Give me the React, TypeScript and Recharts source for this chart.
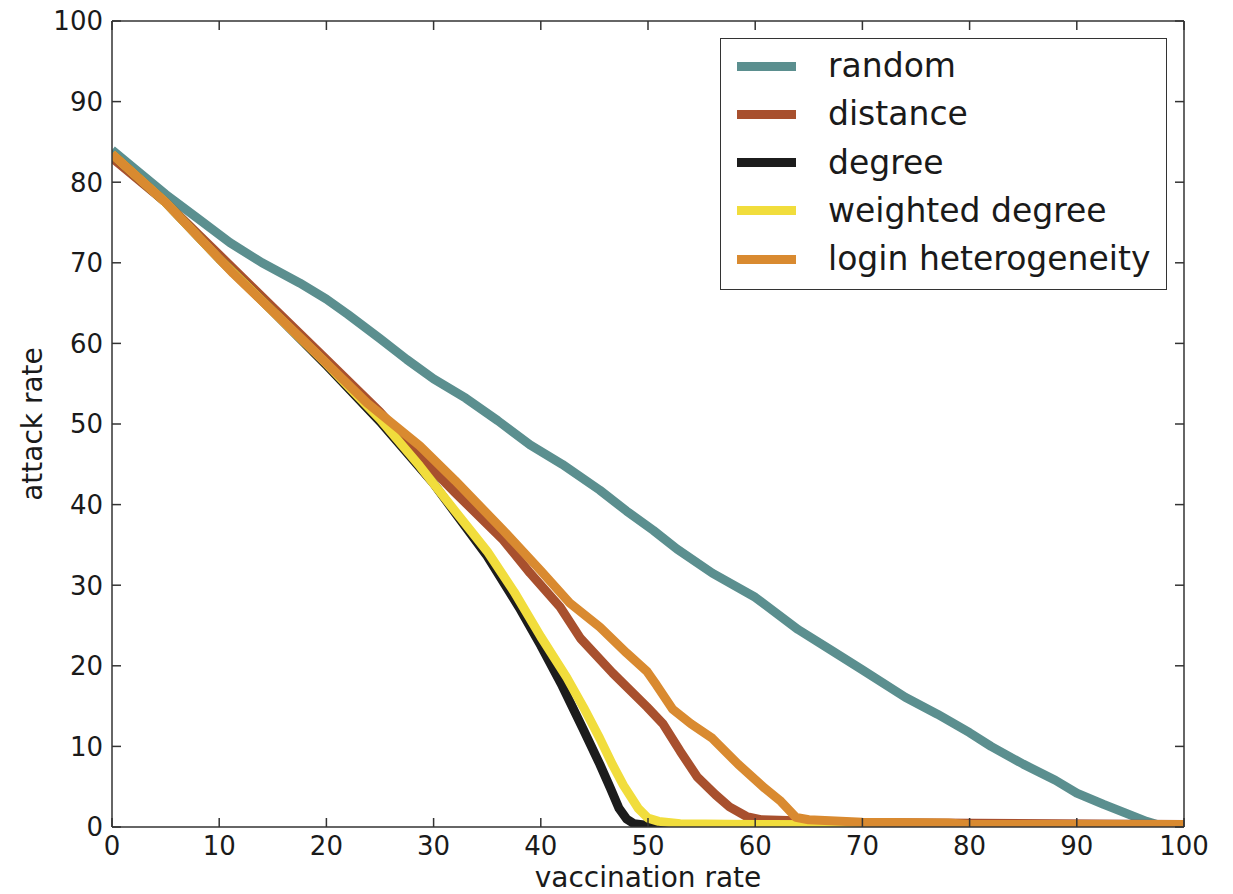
import React from "react";
import { Legend, Line, LineChart, XAxis, YAxis } from "recharts";

// vaccination rate (%) -> attack rate (%)
const randomPts: [number, number][] = [
  [0, 84], [2, 81.8], [5, 78.5], [8, 75.5], [11, 72.5], [14, 70], [17.5, 67.5],
  [20, 65.5], [22, 63.6], [25, 60.6], [27.5, 58], [30, 55.6], [33, 53.2], [36, 50.4],
  [39, 47.4], [42, 45], [45.5, 41.8], [48, 39.2], [50.5, 36.8], [52.7, 34.5], [56, 31.5],
  [60, 28.5], [64, 24.5], [67, 22], [70, 19.5], [74, 16.1], [77, 14], [80, 11.7],
  [82, 10], [85, 7.8], [88, 5.8], [90, 4.2], [92.5, 2.8], [94.8, 1.6],
  [96.5, 0.7], [97.5, 0.3], [100, 0.2],
];

const distancePts: [number, number][] = [
  [0, 83], [5, 77.5], [10, 71], [15, 64.5], [20, 58], [25, 51.5], [28.7, 46],
  [32, 41.5], [36.5, 35.6], [39, 31.5], [41.8, 27.3], [43.7, 23.4], [46.7, 19.1],
  [49.9, 14.9], [51.4, 12.8], [53, 9.4], [54.6, 6.2], [56.3, 4], [57.6, 2.5],
  [59.2, 1.3], [60.5, 0.9], [63, 0.8], [65, 0.6], [100, 0.3],
];

const degreePts: [number, number][] = [
  [0, 83.5], [5, 77.5], [10, 70.5], [15, 64], [20, 57.3], [25, 50.3], [30, 42.6],
  [35, 33.6], [38, 27.2], [40, 22.5], [42, 17.5], [44, 12], [45.5, 7.8],
  [46.5, 4.8], [47.3, 2.3], [48, 1], [48.7, 0.4], [50, 0.2], [100, 0.2],
];

const weightedPts: [number, number][] = [
  [0, 83.5], [5, 77.5], [10, 70.5], [15, 64], [20, 57.5], [25, 50.6], [28.7, 44.8],
  [32, 39.2], [35, 34.2], [37.5, 29.2], [40, 23.6], [42.4, 18.6], [44, 14.8], [45.5, 11],
  [46.7, 7.7], [47.7, 5.2], [49.1, 2.3], [50, 1.1], [51, 0.7], [53, 0.4], [60, 0.3],
  [100, 0.2],
];

const loginPts: [number, number][] = [
  [0, 83.5], [5, 77.5], [11.3, 68.7], [17.5, 60.8], [23.8, 52.6], [28.7, 47.3],
  [32, 43], [36.5, 36.8], [40, 31.8], [42.7, 27.8], [45.5, 24.8], [48, 21.6],
  [49.9, 19.3], [50.8, 17.6], [52.3, 14.6], [54, 12.8], [56, 11], [58.4, 7.8],
  [60.9, 4.8], [62.3, 3.3], [63.8, 1.2], [65, 0.9], [70, 0.6], [78, 0.5], [80, 0.3],
  [100, 0.3],
];

const axisTicks = [0, 10, 20, 30, 40, 50, 60, 70, 80, 90, 100];

const series = [
  { name: "random", pts: randomPts, color: "#5b8f8f" },
  { name: "distance", pts: distancePts, color: "#a8502e" },
  { name: "degree", pts: degreePts, color: "#1c1c1c" },
  { name: "weighted degree", pts: weightedPts, color: "#f1dd3c" },
  { name: "login heterogeneity", pts: loginPts, color: "#d98a30" },
];

const FONT = "'DejaVu Sans', sans-serif";
const FRAME = "#333";
const TICK_LEN = 9;

const toRows = (pts: [number, number][]) => pts.map(([x, y]) => ({ x, y }));

const BottomTick = (props: any) => {
  const { x, y, payload } = props;
  return (
    <g>
      <line x1={x} x2={x} y1={y} y2={y - TICK_LEN} stroke={FRAME} strokeWidth={1.5} />
      <text x={x} y={y + 28} textAnchor="middle" fontSize={26} fontFamily={FONT} fill="#1a1a1a">
        {payload.value}
      </text>
    </g>
  );
};

const LeftTick = (props: any) => {
  const { x, y, payload } = props;
  return (
    <g>
      <line x1={x} x2={x + TICK_LEN} y1={y} y2={y} stroke={FRAME} strokeWidth={1.5} />
      <text x={x - 9} y={y} dy="0.36em" textAnchor="end" fontSize={26} fontFamily={FONT} fill="#1a1a1a">
        {payload.value}
      </text>
    </g>
  );
};

const TopTick = (props: any) => {
  const { x, y } = props;
  return <line x1={x} x2={x} y1={y} y2={y + TICK_LEN} stroke={FRAME} strokeWidth={1.5} />;
};

const RightTick = (props: any) => {
  const { x, y } = props;
  return <line x1={x} x2={x - TICK_LEN} y1={y} y2={y} stroke={FRAME} strokeWidth={1.5} />;
};

const LegendBox = (props: any) => {
  const items = [...(props.payload || [])].sort(
    (a: any, b: any) =>
      series.findIndex((s) => s.name === a.value) - series.findIndex((s) => s.name === b.value)
  );
  return (
    <div
      style={{
        width: 447,
        height: 252,
        boxSizing: "border-box",
        border: `1.5px solid ${FRAME}`,
        background: "#fff",
        position: "relative",
        fontFamily: FONT,
        fontSize: 33,
        color: "#1a1a1a",
      }}
    >
      {items.map((it: any, i: number) => (
        <div
          key={it.value}
          style={{
            position: "absolute",
            left: 0,
            top: 27 + i * 48.3 - 20,
            height: 40,
            display: "flex",
            alignItems: "center",
          }}
        >
          <span
            style={{
              display: "inline-block",
              marginLeft: 16,
              width: 59,
              height: 9,
              background: it.color,
            }}
          />
          <span style={{ marginLeft: 32, lineHeight: "40px", whiteSpace: "nowrap" }}>{it.value}</span>
        </div>
      ))}
    </div>
  );
};

export default function App() {
  return (
    <div style={{ position: "absolute", left: 0, top: 0, background: "#fff" }}>
      <LineChart width={1233} height={894} margin={{ top: 20, right: 48, bottom: 0, left: 0 }}>
        <XAxis
          xAxisId="main"
          dataKey="x"
          type="number"
          domain={[0, 100]}
          ticks={axisTicks}
          interval={0}
          height={67}
          tickSize={0}
          tickMargin={0}
          axisLine={{ stroke: FRAME, strokeWidth: 1.5 }}
          tickLine={false}
          tick={<BottomTick />}
          allowDataOverflow
          label={{
            value: "vaccination rate",
            position: "insideBottom",
            offset: 7,
            fontSize: 28,
            fontFamily: FONT,
            fill: "#1a1a1a",
          }}
        />
        <XAxis
          xAxisId="top"
          orientation="top"
          dataKey="x"
          type="number"
          domain={[0, 100]}
          ticks={axisTicks}
          interval={0}
          height={1}
          tickSize={0}
          tickMargin={0}
          axisLine={{ stroke: FRAME, strokeWidth: 1.5 }}
          tickLine={false}
          tick={<TopTick />}
          allowDataOverflow
        />
        <YAxis
          yAxisId="main"
          type="number"
          domain={[0, 100]}
          ticks={axisTicks}
          interval={0}
          width={112}
          tickSize={0}
          tickMargin={0}
          axisLine={{ stroke: FRAME, strokeWidth: 1.5 }}
          tickLine={false}
          tick={<LeftTick />}
          allowDataOverflow
          label={{
            value: "attack rate",
            angle: -90,
            position: "insideLeft",
            offset: 32,
            fontSize: 28,
            fontFamily: FONT,
            fill: "#1a1a1a",
            style: { textAnchor: "middle" },
          }}
        />
        <YAxis
          yAxisId="right"
          orientation="right"
          type="number"
          domain={[0, 100]}
          ticks={axisTicks}
          interval={0}
          width={1}
          tickSize={0}
          tickMargin={0}
          axisLine={{ stroke: FRAME, strokeWidth: 1.5 }}
          tickLine={false}
          tick={<RightTick />}
          allowDataOverflow
        />
        {series.map((s, i) => (
          <Line
            key={s.name}
            // the first series is tied to the top/right axes (same domain) so the frame draws
            xAxisId={i === 0 ? "top" : "main"}
            yAxisId={i === 0 ? "right" : "main"}
            data={toRows(s.pts)}
            dataKey="y"
            name={s.name}
            type="linear"
            stroke={s.color}
            strokeWidth={9}
            strokeLinejoin="round"
            dot={false}
            activeDot={false}
            isAnimationActive={false}
          />
        ))}
        <Legend
          layout="vertical"
          align="center"
          verticalAlign="middle"
          content={<LegendBox />}
          wrapperStyle={{ position: "absolute", left: 720, top: 38, width: 447, height: 252 }}
        />
      </LineChart>
    </div>
  );
}
